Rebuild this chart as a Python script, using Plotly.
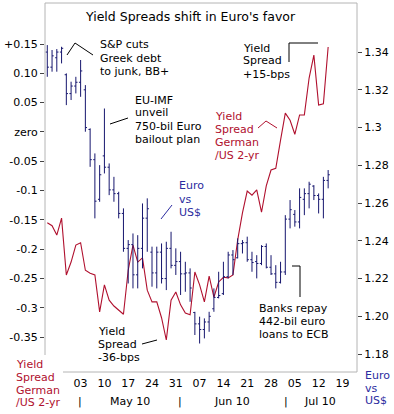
import plotly.graph_objects as go
import pandas as pd

# ---- data -------------------------------------------------------------
trade_days = [d.strftime("%Y-%m-%d") for d in pd.bdate_range("2010-04-22", "2010-07-14")]

eur_high = [1.3437, 1.3411, 1.3416, 1.3428, 1.3287, 1.3243, 1.3269, 1.3358, 1.3225, 1.2996,
            1.2863, 1.2801, 1.3101, 1.2810, 1.2739, 1.2660, 1.2572, 1.2404, 1.2439, 1.2430,
            1.2598, 1.2625, 1.2369, 1.2369, 1.2386, 1.2395, 1.2448, 1.2360, 1.2342, 1.2289,
            1.2254, 1.2024, 1.1998, 1.1989, 1.2024, 1.2148, 1.2236, 1.2289, 1.2342, 1.2351,
            1.2413, 1.2404, 1.2422, 1.2342, 1.2324, 1.2377, 1.2386, 1.2324, 1.2271, 1.2289,
            1.2536, 1.2616, 1.2563, 1.2678, 1.2678, 1.2713, 1.2695, 1.2651, 1.2739, 1.2775]
eur_low = [1.3269, 1.3296, 1.3296, 1.3340, 1.3119, 1.3146, 1.3181, 1.3163, 1.2978, 1.2792,
           1.2519, 1.2607, 1.2757, 1.2642, 1.2607, 1.2519, 1.2342, 1.2174, 1.2148, 1.2148,
           1.2254, 1.2342, 1.2157, 1.2148, 1.2174, 1.2139, 1.2254, 1.2219, 1.2113, 1.2130,
           1.2077, 1.1901, 1.1856, 1.1883, 1.1918, 1.2024, 1.2095, 1.2113, 1.2201, 1.2219,
           1.2307, 1.2333, 1.2289, 1.2236, 1.2201, 1.2271, 1.2254, 1.2219, 1.2148, 1.2174,
           1.2219, 1.2466, 1.2475, 1.2466, 1.2536, 1.2572, 1.2616, 1.2545, 1.2519, 1.2678]
eur_open = [1.3400, 1.3320, 1.3370, 1.3400, 1.3280, 1.3180, 1.3220, 1.3240, 1.3200, 1.2990,
            1.2830, 1.2620, 1.2850, 1.2790, 1.2670, 1.2650, 1.2545, 1.2360, 1.2380, 1.2220,
            1.2360, 1.2520, 1.2340, 1.2230, 1.2340, 1.2200, 1.2360, 1.2270, 1.2290, 1.2225,
            1.2230, 1.2020, 1.1960, 1.1930, 1.1970, 1.2040, 1.2100, 1.2120, 1.2210, 1.2325,
            1.2310, 1.2385, 1.2390, 1.2300, 1.2290, 1.2280, 1.2370, 1.2260, 1.2225, 1.2180,
            1.2235, 1.2515, 1.2540, 1.2500, 1.2620, 1.2650, 1.2690, 1.2640, 1.2620, 1.2720]
eur_close = [1.3320, 1.3380, 1.3400, 1.3420, 1.3180, 1.3220, 1.3240, 1.3300, 1.3000, 1.2830,
             1.2610, 1.2750, 1.2790, 1.2670, 1.2650, 1.2545, 1.2360, 1.2380, 1.2220, 1.2360,
             1.2520, 1.2570, 1.2230, 1.2340, 1.2200, 1.2360, 1.2270, 1.2290, 1.2225, 1.2230,
             1.2150, 1.1960, 1.1930, 1.1970, 1.2000, 1.2100, 1.2110, 1.2210, 1.2325, 1.2300,
             1.2385, 1.2390, 1.2300, 1.2285, 1.2280, 1.2370, 1.2260, 1.2225, 1.2180, 1.2235,
             1.2515, 1.2565, 1.2500, 1.2630, 1.2650, 1.2700, 1.2640, 1.2620, 1.2720, 1.2750]

spread_de_us_2y = [-0.155, -0.160, -0.176, -0.147, -0.244, -0.222, -0.193, -0.189, -0.236, -0.241,
                   -0.244, -0.307, -0.261, -0.287, -0.297, -0.304, -0.311, -0.236, -0.193, -0.222,
                   -0.215, -0.270, -0.290, -0.290, -0.317, -0.355, -0.287, -0.273, -0.295, -0.309,
                   -0.312, -0.239, -0.261, -0.290, -0.246, -0.282, -0.256, -0.248, -0.249, -0.244,
                   -0.184, -0.138, -0.101, -0.108, -0.099, -0.137, -0.092, -0.065, -0.062, -0.014,
                   0.032, 0.020, -0.004, 0.029, 0.029, 0.092, 0.131, 0.046, 0.048, 0.145]

week_tick_pos = [7, 12, 17, 22, 27, 32, 37, 42, 47, 52, 57, 62]
week_tick_text = ["03", "10", "17", "24", "31", "07", "14", "21", "28", "05", "12", "19"]

left_tick_vals = [0.15, 0.10, 0.05, 0.0, -0.05, -0.10, -0.15, -0.20, -0.25, -0.30, -0.35]
left_tick_text = ["+0.15", "0.10", "0.05", "zero", "-0.05", "-0.1", "-0.15", "-0.2", "-0.25", "-0.3", "-0.35"]
right_tick_vals = [1.18, 1.20, 1.22, 1.24, 1.26, 1.28, 1.30, 1.32, 1.34]
right_tick_text = ["1.18", "1.20", "1.22", "1.24", "1.26", "1.28", "1.3", "1.32", "1.34"]

# ---- styling ----------------------------------------------------------
RED = "#b0102e"
NAVY = "#16166e"
BLUE_TXT = "#2b2ba0"
FRAME = "#b4b4b4"
FONT = "DejaVu Sans"

x_pos = list(range(len(trade_days)))

fig = go.Figure()
fig.add_trace(go.Scatter(x=x_pos, y=spread_de_us_2y, mode="lines",
                         line=dict(color=RED, width=1.1), yaxis="y",
                         text=trade_days, name="Yield Spread German/US 2-yr"))
fig.add_trace(go.Ohlc(x=x_pos, open=eur_open, high=eur_high, low=eur_low, close=eur_close,
                      yaxis="y2", tickwidth=0.35, text=trade_days, name="Euro vs US$",
                      increasing=dict(line=dict(color=NAVY, width=1)),
                      decreasing=dict(line=dict(color=NAVY, width=1))))

L, R, T, B = 45, 37, 3, 42
W, H = 394, 414
PW, PH = W - L - R, H - T - B


def px(x):
    return (x - L) / PW


def py(y):
    return (H - B - y) / PH


annotations = []


def text_lines(lines, x, ys, color="black", size=11, anchor="left"):
    for t, y in zip(lines, ys):
        annotations.append(dict(text=t, xref="paper", yref="paper", x=px(x), y=py(y),
                                xanchor=anchor, yanchor="middle", showarrow=False,
                                font=dict(family=FONT, size=size, color=color)))


text_lines(["Yield Spreads shift in Euro's favor"], 190, [17], size=12.5, anchor="center")
text_lines(["S&amp;P cuts", "Greek debt", "to junk, BB+"], 98, [45, 58, 71])
text_lines(["EU-IMF", "unveil", "750-bil Euro", "bailout plan"], 133, [100, 113, 126, 139])
text_lines(["Euro", "vs", "US$"], 177, [185, 199, 212], color=BLUE_TXT)
text_lines(["Yield", "Spread", "German", "/US 2-yr"], 213, [116, 129, 142, 155], color=RED)
text_lines(["Yield", "Spread", "+15-bps"], 241, [48, 61, 74])
text_lines(["Banks repay", "442-bil euro", "loans to ECB"], 257, [308, 321, 334])
text_lines(["Yield", "Spread", "-36-bps"], 96, [331, 344, 357])
text_lines(["Yield", "Spread", "German", "/US 2-yr"], 14, [364, 377, 390, 403], color=RED)
text_lines(["Euro", "vs", "US$"], 363, [375, 388, 400], color=BLUE_TXT)
for lbl, x in [("May 10", 130), ("Jun 10", 232), ("Jul 10", 320)]:
    text_lines([lbl], x, [401], anchor="center")
for x in [80, 180, 286]:
    text_lines(["|"], x, [401], anchor="center")

shapes = []


def seg(points, color="black", width=1):
    for (x0, y0), (x1, y1) in zip(points[:-1], points[1:]):
        shapes.append(dict(type="line", xref="paper", yref="paper",
                           x0=px(x0), y0=py(y0), x1=px(x1), y1=py(y1),
                           line=dict(color=color, width=width)))


# frame
seg([(45, 3), (357, 3), (357, 372), (63, 372)], color=FRAME)
seg([(45, 3), (45, 355)], color=FRAME)
# pointers
seg([(67, 55), (75, 43), (93, 55)])
seg([(110, 124), (128, 118)])
seg([(161, 219), (172, 205)], color=BLUE_TXT)
seg([(258, 128), (266, 121), (277, 128)], color=RED)
seg([(289, 62), (289, 43), (318, 43)])
seg([(292, 266), (300, 266), (300, 297)])
seg([(142, 344), (157, 340)])

fig.update_layout(
    width=W, height=H, margin=dict(l=L, r=R, t=T, b=B),
    paper_bgcolor="white", plot_bgcolor="white", showlegend=False,
    font=dict(family=FONT, size=11, color="black"),
    xaxis=dict(range=[-0.48, 65.06], tickvals=week_tick_pos, ticktext=week_tick_text,
               ticks="", showline=False, showgrid=False, zeroline=False,
               rangeslider=dict(visible=False), ticklabelstandoff=3,
               tickfont=dict(family=FONT, size=11, color="black")),
    yaxis=dict(range=[-0.4096, 0.22], tickvals=left_tick_vals, ticktext=left_tick_text,
               ticks="outside", ticklen=4, tickcolor="#444", showgrid=False,
               zeroline=False, showline=False,
               tickfont=dict(family=FONT, size=11, color="black")),
    yaxis2=dict(range=[1.1705, 1.366], tickvals=right_tick_vals, ticktext=right_tick_text,
                overlaying="y", side="right", ticks="outside", ticklen=4, tickcolor="#444",
                showgrid=False, zeroline=False, showline=False,
                tickfont=dict(family=FONT, size=11, color="black")),
    annotations=annotations, shapes=shapes,
)

fig.write_html("out.html", config={"displayModeBar": False},
               post_script="document.body.style.margin='0';")
